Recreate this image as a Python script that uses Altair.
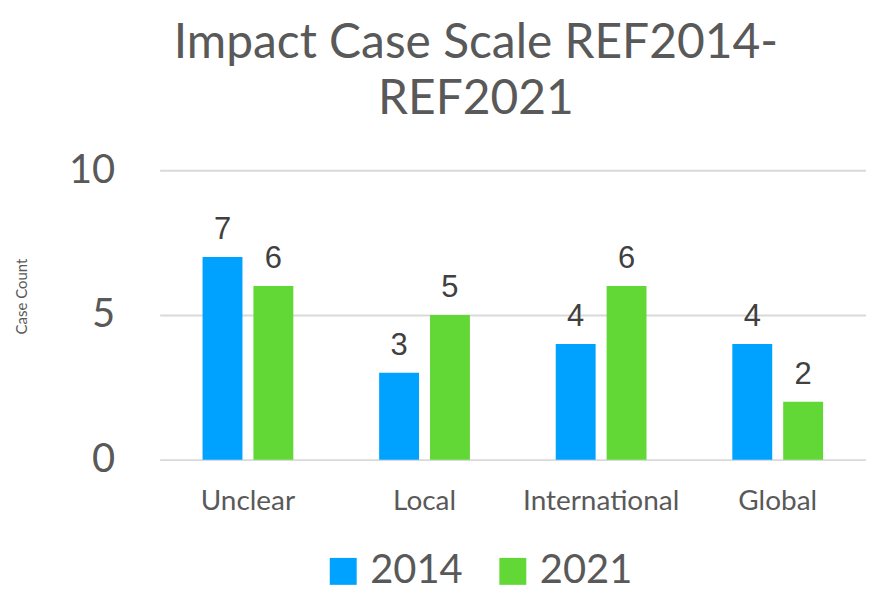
import altair as alt
import pandas as pd

categories = ["Unclear", "Local", "International", "Global"]
years = ["2014", "2021"]
values_2014 = [7, 3, 4, 4]
values_2021 = [6, 5, 6, 2]

rows = []
for c, a, b in zip(categories, values_2014, values_2021):
    rows.append({"Scale": c, "Year": "2014", "Count": a})
    rows.append({"Scale": c, "Year": "2021", "Count": b})
df = pd.DataFrame(rows)

color = alt.Color(
    "Year:N",
    scale=alt.Scale(domain=years, range=["#00A2FF", "#61D836"]),
    legend=alt.Legend(
        orient="none", legendX=164, legendY=382, direction="horizontal",
        title=None, symbolType="square", symbolSize=729, symbolStrokeWidth=0,
        labelFontSize=40, labelFont="Lato", labelColor="#595959",
        labelOffset=7, columnPadding=30, padding=0,
    ),
)

x = alt.X("Scale:N", sort=categories, title=None,
          scale=alt.Scale(paddingInner=0.486, paddingOuter=0.243),
          axis=alt.Axis(labelAngle=0, labelFontSize=28, labelFont="Lato",
                        labelColor="#595959", labelPadding=28, ticks=False,
                        domain=False))
xo = alt.XOffset("Year:N", sort=years, scale=alt.Scale(paddingInner=0.216, paddingOuter=0))
y = alt.Y("Count:Q", scale=alt.Scale(domain=[0, 10]),
          axis=alt.Axis(values=[0, 5, 10], title="Case Count", titleFontSize=15,
                        titleFont="Lato", titleFontWeight="normal", titleColor="#595959",
                        titleX=-138, titleY=126, titleAngle=-90, titleAlign="center",
                        titleBaseline="middle",
                        labelFontSize=40, labelFont="Lato", labelColor="#595959",
                        labelPadding=45, ticks=False, domain=False,
                        gridColor="#D9D9D9", gridWidth=2))

bars = alt.Chart(df).mark_bar().encode(x=x, xOffset=xo, y=y, color=color)
labels = alt.Chart(df).mark_text(
    baseline="alphabetic", dy=-18, fontSize=31, font="Liberation Sans", color="#404040"
).encode(x=x, xOffset=xo, y=y, text="Count:Q")

chart = alt.layer(bars, labels).properties(
    width=708, height=290,
    autosize=alt.AutoSizeParams(type="none"),
    padding={"left": 152, "top": 162, "right": 0, "bottom": 130},
    title=alt.Title(["Impact Case Scale REF2014-", "REF2021"], fontSize=48,
                    font="Lato", fontWeight="normal", color="#595959",
                    anchor="middle", dx=-37, offset=26, lineHeight=57),
).configure_view(stroke=None)

chart.save("out.html", embed_options={"renderer": "svg", "actions": False})
